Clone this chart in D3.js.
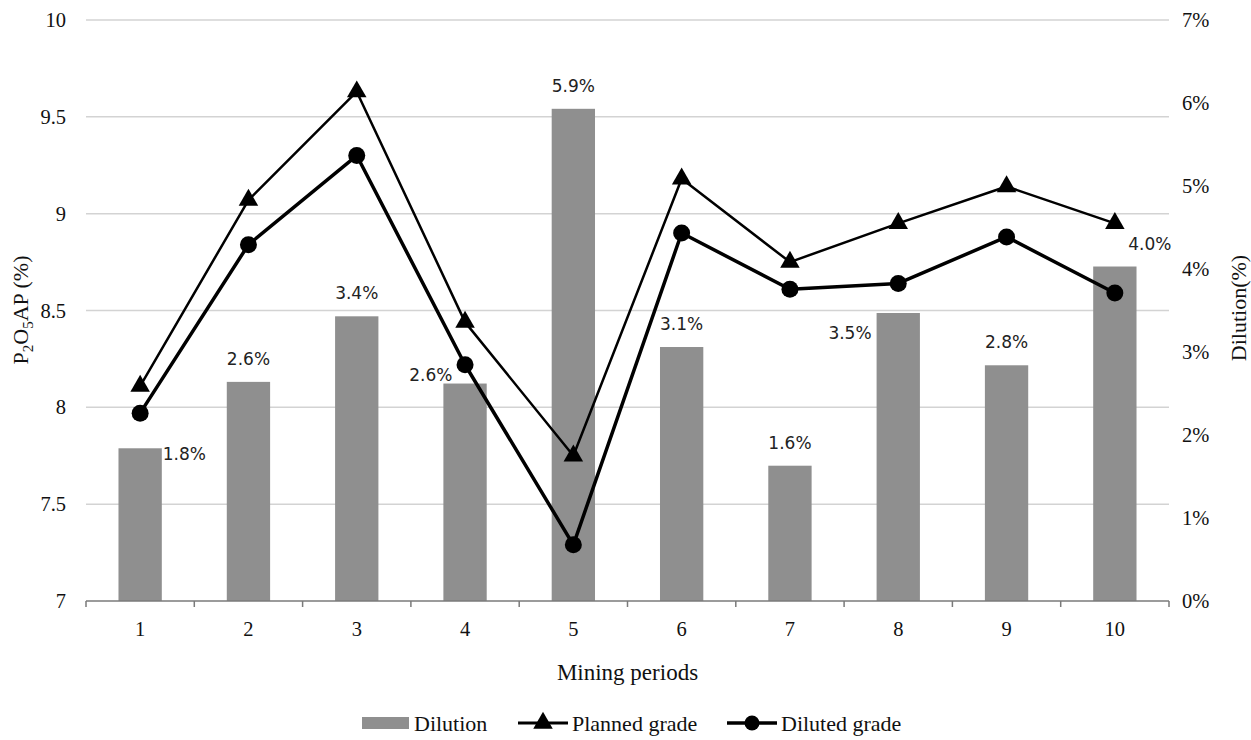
<!DOCTYPE html>
<html>
<head>
<meta charset="utf-8">
<script src="https://cdn.jsdelivr.net/npm/d3@7"></script>
<style>
  html, body { margin: 0; padding: 0; background: #fff; }
  svg { display: block; }
</style>
</head>
<body>
<svg id="chart" width="1251" height="740"></svg>
<script>
// ---------------- DATA ----------------
const categories = ["1", "2", "3", "4", "5", "6", "7", "8", "9", "10"];
const dilution = [1.84, 2.64, 3.43, 2.62, 5.93, 3.06, 1.63, 3.47, 2.84, 4.03]; // percent
const plannedGrade = [8.11, 9.07, 9.63, 8.44, 7.75, 9.18, 8.75, 8.95, 9.14, 8.95];
const dilutedGrade = [7.97, 8.84, 9.30, 8.22, 7.29, 8.90, 8.61, 8.64, 8.88, 8.59];
const leftTicks = [7, 7.5, 8, 8.5, 9, 9.5, 10];
const rightTicks = [0, 1, 2, 3, 4, 5, 6, 7];
const labelPlacement = ["right", "above", "above", "left", "above", "above", "above", "leftBelow", "above", "aboveRight"];
const legendItems = ["Dilution", "Planned grade", "Diluted grade"];
const xTitle = "Mining periods";
const rightTitle = "Dilution(%)";

// ---------------- LAYOUT ----------------
const svg = d3.select("#chart");
const X0 = 86, X1 = 1169, Y0 = 601, Y1 = 20;
const serif = "'Liberation Serif', 'Times New Roman', serif";
const sans = "'DejaVu Sans', 'Noto Sans', sans-serif";

const x = d3.scaleBand().domain(categories).range([X0, X1]).paddingInner(0).paddingOuter(0);
const yL = d3.scaleLinear().domain([7, 10]).range([Y0, Y1]);
const yR = d3.scaleLinear().domain([0, 7]).range([Y0, Y1]);
const barW = x.bandwidth() * 0.4;
const cx = c => x(c) + x.bandwidth() / 2;

// gridlines
svg.append("g").selectAll("line")
  .data(leftTicks.filter(t => t !== 7))
  .join("line")
  .attr("x1", X0).attr("x2", X1)
  .attr("y1", d => yL(d)).attr("y2", d => yL(d))
  .attr("stroke", "#d3d3d3").attr("stroke-width", 1.5);

// bars
svg.append("g").selectAll("rect")
  .data(dilution)
  .join("rect")
  .attr("x", (d, i) => cx(categories[i]) - barW / 2)
  .attr("width", barW)
  .attr("y", d => yR(d))
  .attr("height", d => Y0 - yR(d))
  .attr("fill", "#8f8f8f");

// left axis
const gL = svg.append("g").attr("transform", `translate(${X0},0)`)
  .call(d3.axisLeft(yL).tickValues(leftTicks).tickSize(0).tickPadding(20).tickFormat(d3.format("")));
gL.select(".domain").remove();
gL.selectAll("text").attr("font-family", serif).attr("font-size", 20.5).attr("fill", "#111");

// right axis
const gR = svg.append("g").attr("transform", `translate(${X1},0)`)
  .call(d3.axisRight(yR).tickValues(rightTicks).tickSize(0).tickPadding(13).tickFormat(d => d + "%"));
gR.select(".domain").remove();
gR.selectAll("text").attr("font-family", serif).attr("font-size", 20.5).attr("fill", "#111");

// x axis
const gX = svg.append("g").attr("transform", `translate(0,${Y0})`)
  .call(d3.axisBottom(x).tickSize(0).tickPadding(20));
gX.select(".domain").remove();
gX.selectAll("text").attr("font-family", serif).attr("font-size", 20.5).attr("fill", "#111");
gX.append("line").attr("x1", X0).attr("x2", X1).attr("y1", 0).attr("y2", 0)
  .attr("stroke", "#7a7a7a").attr("stroke-width", 1.5);
const boundaries = categories.map(c => x(c)).concat([x(categories[categories.length - 1]) + x.bandwidth()]);
gX.selectAll(".btick").data(boundaries).join("line").attr("class", "btick")
  .attr("x1", d => d).attr("x2", d => d).attr("y1", 0).attr("y2", 6)
  .attr("stroke", "#7a7a7a").attr("stroke-width", 1.5);

// lines
const lineGen = d3.line().x((d, i) => cx(categories[i])).y(d => yL(d));
svg.append("path").datum(plannedGrade).attr("d", lineGen)
  .attr("fill", "none").attr("stroke", "#000").attr("stroke-width", 2.5).attr("stroke-linejoin", "round");
svg.append("path").datum(dilutedGrade).attr("d", lineGen)
  .attr("fill", "none").attr("stroke", "#000").attr("stroke-width", 3.5).attr("stroke-linejoin", "round");

const tri = d3.symbol().type(d3.symbolTriangle).size(165);
svg.append("g").selectAll("path").data(plannedGrade).join("path")
  .attr("d", tri)
  .attr("transform", (d, i) => `translate(${cx(categories[i])},${yL(d)})`)
  .attr("fill", "#000");
svg.append("g").selectAll("circle").data(dilutedGrade).join("circle")
  .attr("cx", (d, i) => cx(categories[i])).attr("cy", d => yL(d)).attr("r", 8.5)
  .attr("fill", "#000");

// data labels
const fmt = d3.format(".1f");
svg.append("g").selectAll("text").data(dilution).join("text")
  .each(function (d, i) {
    const c = cx(categories[i]), top = yR(d);
    const p = labelPlacement[i];
    let tx = c, ty = top - 23, anchor = "middle";
    if (p === "right") { tx = c + barW / 2 + 1; ty = top + 6; anchor = "start"; }
    else if (p === "left") { tx = c - barW / 2 + 9; ty = top - 8; anchor = "end"; }
    else if (p === "leftBelow") { tx = c - barW / 2 - 5; ty = top + 20; anchor = "end"; }
    else if (p === "aboveRight") { tx = c + 35; ty = top - 22; }
    d3.select(this).attr("x", tx).attr("y", ty).attr("text-anchor", anchor);
  })
  .attr("dy", "0.35em")
  .attr("font-family", sans).attr("font-size", 17).attr("fill", "#222")
  .text(d => fmt(d) + "%");

// axis titles
svg.append("text").attr("x", (X0 + X1) / 2).attr("y", 672).attr("dy", "0.35em")
  .attr("text-anchor", "middle").attr("font-family", serif).attr("font-size", 23).attr("fill", "#111")
  .text(xTitle);

const lt = svg.append("text").attr("transform", "translate(20,310) rotate(-90)").attr("dy", "0.35em")
  .attr("text-anchor", "middle").attr("font-family", serif).attr("font-size", 22).attr("fill", "#111");
lt.append("tspan").text("P");
lt.append("tspan").attr("font-size", 15).attr("dy", "5").text("2");
lt.append("tspan").attr("dy", "-5").text("O");
lt.append("tspan").attr("font-size", 15).attr("dy", "5").text("5");
lt.append("tspan").attr("dy", "-5").text("AP (%)");

svg.append("text").attr("transform", "translate(1238,308) rotate(-90)").attr("dy", "0.35em")
  .attr("text-anchor", "middle").attr("font-family", serif).attr("font-size", 22).attr("fill", "#111")
  .text(rightTitle);

// legend
const LY = 723;
const leg = svg.append("g").attr("font-family", serif).attr("font-size", 22).attr("fill", "#111");
leg.append("rect").attr("x", 362).attr("y", LY - 6).attr("width", 47).attr("height", 12).attr("fill", "#8f8f8f");
leg.append("text").attr("x", 414).attr("y", LY).attr("dy", "0.35em").text(legendItems[0]);
leg.append("line").attr("x1", 518).attr("x2", 568).attr("y1", LY).attr("y2", LY).attr("stroke", "#000").attr("stroke-width", 3);
leg.append("path").attr("d", tri).attr("transform", `translate(543,${LY})`).attr("fill", "#000");
leg.append("text").attr("x", 572).attr("y", LY).attr("dy", "0.35em").text(legendItems[1]);
leg.append("line").attr("x1", 727).attr("x2", 777).attr("y1", LY).attr("y2", LY).attr("stroke", "#000").attr("stroke-width", 3.5);
leg.append("circle").attr("cx", 752).attr("cy", LY).attr("r", 7.5).attr("fill", "#000");
leg.append("text").attr("x", 781).attr("y", LY).attr("dy", "0.35em").text(legendItems[2]);
</script>
</body>
</html>
